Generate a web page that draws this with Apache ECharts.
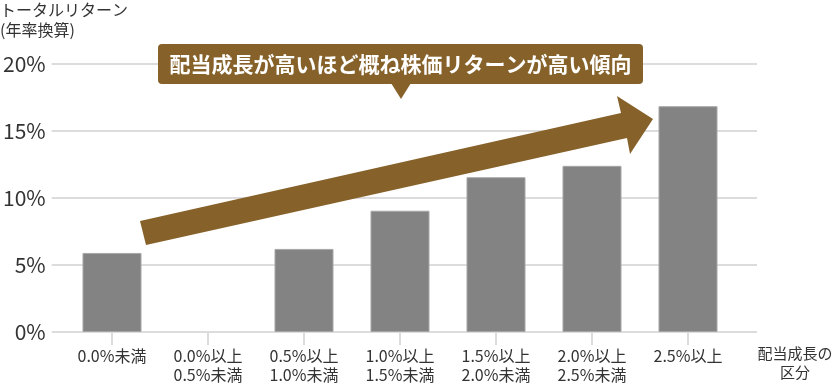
<!DOCTYPE html>
<html>
<head>
<meta charset="utf-8">
<script src="https://cdn.jsdelivr.net/npm/echarts@6/dist/echarts.min.js"></script>
<style>
html,body{margin:0;padding:0;background:#fff;}
#chart{width:834px;height:385px;}
</style>
</head>
<body>
<div id="chart"></div>
<script>
const categories = ["0.0%未満", "0.0%以上\n0.5%未満", "0.5%以上\n1.0%未満", "1.0%以上\n1.5%未満", "1.5%以上\n2.0%未満", "2.0%以上\n2.5%未満", "2.5%以上"];
const returns = [5.9, null, 6.2, 9.05, 11.55, 12.4, 16.85];
const yTicks = [0, 5, 10, 15, 20];
const yTitle = ["トータルリターン", "(年率換算)"];
const xTitle = "配当成長の\n区分";
const calloutText = "配当成長が高いほど概ね株価リターンが高い傾向";

const FONT = '"Noto Sans CJK JP", "Noto Sans", sans-serif';
const BROWN = '#86622a';
const chart = echarts.init(document.getElementById('chart'), null, {renderer: 'canvas'});

const option = {
  animation: false,
  backgroundColor: '#fff',
  grid: [
    {left: 47, right: 77, top: 64, bottom: 53},
    {left: 64, right: 98, top: 64, bottom: 53}
  ],
  xAxis: [
    {gridIndex: 0, type: 'value', show: false, min: 0, max: 1},
    {
      gridIndex: 1, type: 'category', data: categories,
      axisLine: {show: false},
      axisTick: {show: true, alignWithLabel: true, length: 13, lineStyle: {color: '#dcdcdc', width: 2}},
      axisLabel: {color: '#333', fontSize: 16, lineHeight: 19, margin: 14, fontFamily: FONT, interval: 0}
    }
  ],
  yAxis: [
    {
      gridIndex: 0, type: 'value', min: yTicks[0], max: yTicks[yTicks.length - 1], interval: 5,
      axisLine: {show: false}, axisTick: {show: false},
      splitLine: {show: true, lineStyle: {color: '#dcdcdc', width: 2}},
      axisLabel: {color: '#333', fontSize: 21, margin: 6, fontFamily: FONT, formatter: v => v + '%'}
    },
    {
      gridIndex: 1, type: 'value', min: yTicks[0], max: yTicks[yTicks.length - 1], interval: 5,
      show: false, splitLine: {show: false}
    }
  ],
  series: [
    {
      type: 'bar', xAxisIndex: 1, yAxisIndex: 1, data: returns,
      barWidth: 59, z: 5,
      itemStyle: {color: '#838383', borderColor: '#a6a6a6', borderWidth: 1}
    }
  ],
  graphic: [
    {type: 'text', left: 0, top: 0, z: 100, style: {text: yTitle.join('\n'), font: '16px ' + FONT, lineHeight: 20, fill: '#333'}},
    {type: 'text', x: 795, y: 344, z: 100, style: {text: xTitle, font: '15px ' + FONT, lineHeight: 19, fill: '#333', align: 'center'}},
    {type: 'polygon', z: 100, shape: {points: [[140,221],[621,113],[617,96],[653,119],[630,154],[627,138],[146,245]]}, style: {fill: BROWN}},
    {type: 'rect', z: 100, shape: {x: 158, y: 44, width: 485, height: 40, r: 4}, style: {fill: BROWN}},
    {type: 'polygon', z: 100, shape: {points: [[391,83],[411,83],[401,99]]}, style: {fill: BROWN}},
    {type: 'text', z: 101, x: 400.5, y: 64, style: {text: calloutText, font: 'bold 21px ' + FONT, fill: '#fff', align: 'center', verticalAlign: 'middle'}}
  ]
};
chart.setOption(option);
</script>
</body>
</html>
